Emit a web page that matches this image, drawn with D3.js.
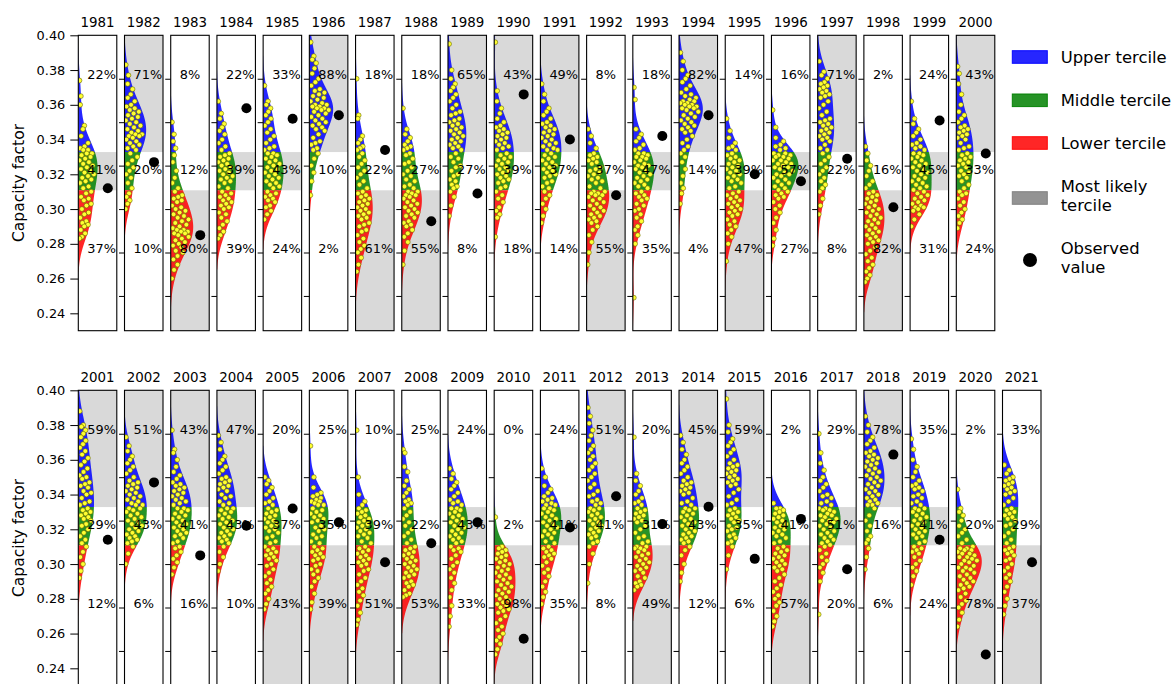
<!DOCTYPE html>
<html>
<head>
<meta charset="utf-8">
<script src="https://cdn.jsdelivr.net/npm/d3@7"></script>
<style>
  body { margin: 0; background: #fff; }
  svg { display: block; }
  text { font-family: "DejaVu Sans", sans-serif; fill: #000; }
</style>
</head>
<body>
<svg id="chart" width="1174" height="684"></svg>
<script>
// Forecast years, one small panel each
const years = [1981, 1982, 1983, 1984, 1985, 1986, 1987, 1988, 1989, 1990,
               1991, 1992, 1993, 1994, 1995, 1996, 1997, 1998, 1999, 2000,
               2001, 2002, 2003, 2004, 2005, 2006, 2007, 2008, 2009, 2010,
               2011, 2012, 2013, 2014, 2015, 2016, 2017, 2018, 2019, 2020, 2021];

// Observed capacity factor for each year
const observed = [0.312, 0.327, 0.285, 0.358, 0.352, 0.354, 0.334, 0.293, 0.309, 0.366,
                  0.340, 0.308, 0.342, 0.354, 0.320, 0.316, 0.329, 0.301, 0.351, 0.332,
                  0.314, 0.347, 0.305, 0.322, 0.332, 0.324, 0.301, 0.312, 0.324, 0.257,
                  0.321, 0.339, 0.323, 0.333, 0.303, 0.326, 0.297, 0.363, 0.314, 0.248, 0.301];

// 51 ensemble members per year, capacity factor x 1000
const ensemble = [
  "374 365 360 348 346 342 338 336 335 334 334 332 332 331 330 329 328 327 326 325 324 323 322 321 320 319 318 317 316 315 313 312 310 309 307 306 305 303 302 300 298 297 295 293 292 291 290 288 286 284 283",
  "383 377 372 369 366 364 362 360 359 358 357 356 355 354 353 352 351 350 349 348 347 346 345 344 343 343 342 342 341 340 339 338 337 336 335 334 332 330 328 326 324 322 320 318 315 312 309 307 305 303 300",
  "350 343 339 335 331 327 322 318 315 312 310 308 307 306 305 304 302 301 300 299 298 297 296 295 294 293 292 291 290 289 288 288 287 287 286 286 285 284 283 282 281 280 279 278 276 275 273 271 268 265 260",
  "362 355 352 349 347 345 343 340 338 336 334 332 331 330 329 328 327 326 325 324 323 322 321 320 319 318 317 316 315 313 312 310 309 308 307 306 305 304 303 302 301 300 298 297 295 293 291 289 287 285 283",
  "371 362 360 358 356 354 352 350 348 346 344 342 340 338 336 335 334 332 332 331 330 329 328 327 326 325 324 323 322 321 320 319 318 317 316 315 314 313 312 310 309 308 307 306 305 304 302 301 299 297 294",
  "396 388 386 384 381 378 375 373 371 369 368 367 366 365 364 363 362 361 360 360 359 359 358 358 357 357 356 355 354 353 352 351 350 349 348 347 346 345 343 341 339 338 337 335 334 332 329 325 321 316 308",
  "375 354 352 342 340 338 336 335 334 332 330 328 326 324 322 320 318 316 314 312 310 309 308 307 306 305 304 303 302 301 300 299 298 297 296 295 294 292 291 290 288 287 285 283 281 279 277 275 272 268 264",
  "358 346 343 341 339 337 336 335 334 332 331 329 327 326 324 322 320 319 317 316 314 313 312 310 310 309 308 308 307 306 305 304 303 302 301 300 299 298 297 296 295 293 292 291 290 288 286 284 281 276 268",
  "395 380 375 372 370 368 366 364 362 360 358 356 355 354 352 351 350 349 348 347 346 345 344 343 342 341 340 339 338 337 336 335 334 332 330 329 327 325 324 322 320 319 317 316 314 313 312 310 307 302 296",
  "396 368 362 358 355 352 350 348 347 346 345 344 343 342 341 340 339 338 337 336 335 334 332 331 330 329 328 327 326 325 324 323 322 321 320 319 318 317 316 315 313 312 310 308 306 304 301 299 297 295 284",
  "372 366 362 358 356 354 352 350 349 348 347 346 345 344 343 342 341 340 339 338 337 336 335 334 334 332 331 330 329 328 327 326 325 324 323 322 321 320 319 318 316 315 313 312 310 308 306 303 300 296 292",
  "346 342 338 335 332 331 330 329 328 327 326 324 323 322 321 320 319 318 317 316 315 313 312 310 310 309 309 308 308 307 306 305 304 303 302 301 300 299 298 297 296 295 294 293 292 290 288 285 281 275 268",
  "370 363 346 343 341 339 337 335 334 332 332 331 330 330 329 328 327 326 325 325 324 323 322 321 320 319 318 317 316 315 314 313 312 310 309 308 307 306 305 303 302 300 299 297 295 293 290 288 285 280 249",
  "390 385 380 377 375 373 371 369 367 366 365 364 363 362 362 361 361 360 360 359 359 358 358 357 356 355 354 353 352 351 350 349 348 347 346 345 344 342 340 338 336 334 332 330 327 323 319 315 312 309 303",
  "352 345 341 338 336 335 334 332 331 330 329 328 327 326 325 324 323 322 321 320 319 318 317 316 315 313 312 310 309 308 307 306 305 304 303 302 301 300 299 298 297 296 294 293 291 290 288 286 284 280 270",
  "357 347 341 339 337 336 335 334 332 332 331 331 330 330 329 328 328 327 326 326 325 324 324 323 322 321 320 320 319 318 317 316 315 314 313 312 311 310 309 308 307 306 304 302 300 298 295 292 288 283 279",
  "385 379 377 375 373 372 371 370 369 368 367 366 365 364 362 360 358 356 354 352 351 350 349 348 347 346 345 344 343 342 341 340 339 337 335 334 332 330 328 326 324 322 320 318 316 314 312 310 306 302 297",
  "336 332 328 325 322 319 316 314 312 310 309 308 307 306 305 304 303 302 301 300 299 298 297 296 295 294 293 292 291 290 289 288 287 286 285 284 283 282 281 280 278 276 274 272 270 268 266 264 262 260 258",
  "362 352 349 346 344 342 340 338 337 336 335 334 332 332 331 330 329 328 327 326 325 324 323 322 321 320 319 318 317 316 315 314 313 312 311 310 309 308 307 306 305 304 303 302 301 301 300 299 297 294 290",
  "382 378 372 366 360 356 354 352 350 348 347 346 345 344 343 342 341 340 338 336 335 334 332 331 330 329 328 327 326 325 324 322 321 320 319 318 316 314 312 310 309 308 306 304 302 300 298 296 294 292 289",
  "388 380 379 377 375 373 371 369 367 365 363 361 359 357 355 353 351 350 349 347 346 345 344 342 341 340 338 336 335 334 332 331 330 329 328 327 326 325 323 322 320 318 316 314 312 310 307 304 300 296 292",
  "373 368 365 362 360 358 356 354 352 350 348 347 346 345 344 343 342 341 340 339 338 337 336 335 334 334 332 332 331 330 329 328 327 326 325 324 323 322 321 320 319 318 317 316 315 314 313 312 310 306 300",
  "377 366 364 360 356 353 351 349 347 346 345 344 343 342 341 340 339 338 337 336 335 334 332 332 331 330 329 328 327 326 325 324 323 322 321 320 319 318 317 316 315 313 312 310 309 307 305 303 301 298 294",
  "374 370 366 362 360 358 356 354 352 350 349 348 347 346 345 344 343 342 340 339 338 336 335 334 332 332 331 330 329 328 327 326 325 324 323 322 321 320 319 318 317 316 315 314 313 312 310 307 304 300 296",
  "350 348 346 344 342 340 338 336 335 334 332 331 330 329 328 327 326 325 324 323 322 321 320 319 318 316 315 313 312 310 309 308 307 306 305 304 303 302 300 299 297 295 293 291 289 287 285 283 280 277 274",
  "368 350 344 341 340 339 338 337 336 336 335 334 334 332 331 330 329 328 327 326 325 324 322 321 320 319 317 316 315 313 312 310 309 308 307 306 305 304 303 302 300 299 297 296 294 292 290 287 283 278 274",
  "377 350 340 336 334 332 331 330 329 328 327 326 325 324 323 322 321 320 319 318 317 316 315 313 312 310 309 308 307 306 305 304 303 302 301 300 299 297 296 294 292 290 288 286 284 282 279 276 272 268 265",
  "366 364 356 353 348 345 343 341 339 337 336 335 334 332 330 328 326 324 322 320 318 316 314 312 310 309 308 307 306 305 304 303 302 301 300 299 298 297 296 295 294 293 292 290 289 288 287 285 283 282 281",
  "355 352 349 347 345 343 341 339 337 336 335 334 332 332 331 330 329 328 327 326 325 324 323 322 321 320 319 318 317 316 315 314 313 312 310 309 308 307 305 303 301 299 297 295 292 289 285 281 276 270 264",
  "327 310 309 308 307 306 305 304 303 302 301 300 299 298 297 296 295 294 293 292 291 290 289 288 287 286 285 284 283 282 281 280 279 278 277 276 275 274 273 272 270 268 266 264 262 260 258 256 254 251 248",
  "355 350 345 343 341 339 338 337 336 335 334 334 332 332 331 330 329 328 327 326 325 324 323 322 321 320 319 318 317 316 315 313 312 310 309 308 307 306 305 304 303 301 299 297 295 293 290 287 284 281 277",
  "390 385 381 377 374 371 368 366 364 362 360 358 356 354 352 350 348 346 344 342 340 339 337 336 335 334 332 332 331 330 329 328 327 326 325 324 323 322 321 320 319 318 317 316 315 313 312 310 306 300 289",
  "373 352 348 345 342 340 338 336 335 334 332 331 330 329 328 327 326 325 324 322 320 318 316 315 313 312 310 310 309 309 308 307 306 305 304 303 302 301 300 299 298 297 296 295 293 292 290 289 288 287 285",
  "374 370 366 363 360 358 356 354 352 350 348 347 346 345 344 343 342 341 340 338 336 335 334 332 332 331 330 329 328 327 326 325 324 323 322 321 320 319 318 317 316 315 314 313 312 310 308 305 300 295 290",
  "395 380 376 372 370 368 366 364 362 360 358 357 356 355 354 353 352 351 350 349 348 347 346 345 343 341 339 337 335 334 332 331 330 329 328 327 326 325 324 322 321 320 319 317 316 315 313 312 310 305 297",
  "335 332 332 331 330 329 328 327 326 325 324 323 322 321 320 319 318 317 316 315 313 312 310 309 308 307 306 305 304 303 302 301 300 299 298 297 296 294 292 290 288 286 284 282 280 278 276 273 270 267 264",
  "375 364 358 354 350 348 346 344 342 340 339 338 336 335 334 332 332 331 331 330 329 328 328 327 326 325 325 324 323 322 321 320 319 318 317 316 315 314 313 312 311 310 308 306 304 302 300 298 295 290 271",
  "385 380 376 373 371 369 367 365 364 363 362 361 360 359 358 357 356 355 354 353 352 351 350 349 348 347 346 345 344 343 342 341 340 339 338 337 336 335 334 334 332 328 325 322 319 316 314 312 309 304 297",
  "372 366 360 356 353 350 348 346 345 344 343 342 340 339 338 336 335 334 332 332 331 330 329 328 327 326 325 324 323 322 321 320 319 318 317 316 315 313 312 310 309 308 307 306 304 302 300 298 296 293 288",
  "343 332 330 328 325 322 320 318 316 314 312 310 309 309 308 308 307 306 306 305 304 304 303 302 302 301 300 299 298 298 297 296 295 294 293 292 291 290 289 288 287 286 285 283 281 279 277 275 272 268 264",
  "357 354 352 350 349 348 347 346 345 344 343 342 341 340 338 336 334 332 331 330 329 328 327 326 325 323 322 320 318 316 314 312 310 309 308 307 306 305 303 302 300 298 296 294 292 290 287 284 280 276 271"
];

// Tercile boundaries (lower/middle, middle/upper)
const tercileBounds = [0.3108, 0.3328];
const tercileNames = ["Upper tercile", "Middle tercile", "Lower tercile"];
const tercileColors = ["#0000ff", "#008000", "#ff0000"];

// Axis settings
const yDomain = [0.23, 0.40];
const yTicksLabelled = [0.24, 0.26, 0.28, 0.30, 0.32, 0.34, 0.36, 0.38, 0.40];
const yTicksPanel = [0.25, 0.275, 0.30, 0.325, 0.35, 0.375];
const yLabel = "Capacity factor";

// ---------------------------------------------------------------
const svg = d3.select("#chart");
const panelsPerRow = 21;
const rowTops = [35.3, 390.3];
const panelH = 295.4;
const col = d3.scaleBand()
  .domain(d3.range(panelsPerRow))
  .range([78.3, 1041])
  .paddingInner(0.167)
  .paddingOuter(0);
const bw = col.bandwidth();

const members = ensemble.map(s => s.trim().split(/\s+/).map(v => +v / 1000));

// Gaussian kernel density with Scott's bandwidth
function makeKde(vals) {
  const n = vals.length;
  const h = d3.deviation(vals) * Math.pow(n, -0.2);
  const norm = 1 / (n * h * Math.sqrt(2 * Math.PI));
  const f = y => norm * d3.sum(vals, v => Math.exp(-0.5 * ((y - v) / h) ** 2));
  f.lo = d3.min(vals) - 2 * h;
  f.hi = d3.max(vals) + 2 * h;
  return f;
}
const kdes = members.map(makeKde);
const grid = d3.range(yDomain[0], yDomain[1] + 1e-9, 0.0005);
const globalMax = d3.max(kdes, f => d3.max(grid, g => f(g)));
const widthScale = d3.scaleLinear().domain([0, globalMax]).range([0, 27]);

function tercileCounts(vals) {
  const up = vals.filter(v => v > tercileBounds[1]).length;
  const lo = vals.filter(v => v < tercileBounds[0]).length;
  return [up, vals.length - up - lo, lo];
}

const bandRanges = [
  [tercileBounds[1], yDomain[1]],
  [tercileBounds[0], tercileBounds[1]],
  [yDomain[0], tercileBounds[0]]
];

const defs = svg.append("defs");

years.forEach((yr, i) => {
  const row = i < 20 ? 0 : 1;
  const c = row === 0 ? i : i - 20;
  const top = rowTops[row];
  const x0 = col(c);
  const y = d3.scaleLinear().domain(yDomain).range([top + panelH, top]);
  const vals = members[i];
  const f = kdes[i];
  const counts = tercileCounts(vals);
  const likely = counts.indexOf(d3.max(counts));

  defs.append("clipPath").attr("id", "clip" + yr)
    .append("rect").attr("x", 0).attr("y", top).attr("width", bw).attr("height", panelH);

  const g = svg.append("g").attr("transform", `translate(${x0},0)`);
  const inner = g.append("g").attr("clip-path", `url(#clip${yr})`);

  // most likely tercile
  const br = bandRanges[likely];
  inner.append("rect")
    .attr("x", 0).attr("width", bw)
    .attr("y", y(br[1])).attr("height", y(br[0]) - y(br[1]))
    .attr("fill", "#d9d9d9");

  // half violin, coloured by tercile
  const area = d3.area()
    .y(d => y(d[0]))
    .x0(0)
    .x1(d => widthScale(d[1]));
  bandRanges.forEach((r, k) => {
    const a = Math.max(r[0], f.lo), b = Math.min(r[1], f.hi);
    if (b <= a) return;
    const pts = [a, ...grid.filter(v => v > a && v < b), b].map(v => [v, f(v)]);
    inner.append("path")
      .datum(pts)
      .attr("d", area)
      .attr("fill", tercileColors[k])
      .attr("fill-opacity", 0.85);
  });

  // ensemble members, spread across the violin width
  inner.selectAll("circle.member")
    .data(vals)
    .join("circle")
    .attr("class", "member")
    .attr("cx", (v, j) => ((j * 0.6180339887 + 0.13) % 1) * 0.8 * widthScale(f(v)) + 1)
    .attr("cy", v => y(v))
    .attr("r", 2.4)
    .attr("fill", "#ffff33")
    .attr("stroke", "#6b6b00")
    .attr("stroke-width", 0.6);

  // tercile percentages
  const labelY = [0.375, 0.32, 0.275];
  counts.forEach((cnt, k) => {
    g.append("text")
      .attr("x", 9)
      .attr("y", y(labelY[k]))
      .attr("font-size", "12.9px")
      .text(Math.round(100 * cnt / vals.length) + "%");
  });

  // observed value
  g.append("circle")
    .attr("cx", 29.5)
    .attr("cy", y(observed[i]))
    .attr("r", 5)
    .attr("fill", "#000");

  // frame
  g.append("rect")
    .attr("x", 0).attr("y", top)
    .attr("width", bw).attr("height", panelH)
    .attr("fill", "none")
    .attr("stroke", "#000")
    .attr("stroke-width", 1.1);

  // year title
  g.append("text")
    .attr("x", bw / 2)
    .attr("y", top - 8.8)
    .attr("text-anchor", "middle")
    .attr("font-size", "13.4px")
    .text(yr);

  // y ticks
  if (c === 0) {
    const ax = g.append("g").call(
      d3.axisLeft(y).tickValues(yTicksLabelled)
        .tickFormat(d3.format(".2f")).tickSize(8).tickPadding(5));
    ax.select(".domain").remove();
    ax.selectAll("text").attr("font-size", "12.9px").attr("font-family", "DejaVu Sans, sans-serif").attr("fill", "#000");
    ax.selectAll("line").attr("stroke", "#000").attr("stroke-width", 1);
    svg.append("text")
      .attr("transform", `translate(19,${top + panelH / 2}) rotate(-90)`)
      .attr("text-anchor", "middle")
      .attr("dominant-baseline", "central")
      .attr("font-size", "15.5px")
      .text(yLabel);
  } else {
    const ax = g.append("g").call(
      d3.axisLeft(y).tickValues(yTicksPanel).tickFormat("").tickSize(5.5));
    ax.select(".domain").remove();
    ax.selectAll("line").attr("stroke", "#000").attr("stroke-width", 1);
  }
});

// legend
const legend = svg.append("g").attr("transform", "translate(1012,0)");
const legendFont = "16.4px";
const patchItems = [
  { label: [tercileNames[0]], color: tercileColors[0], op: 0.85, cy: 57 },
  { label: [tercileNames[1]], color: tercileColors[1], op: 0.85, cy: 100.3 },
  { label: [tercileNames[2]], color: tercileColors[2], op: 0.85, cy: 143 },
  { label: ["Most likely", "tercile"], color: "#808080", op: 0.85, cy: 198 }
];
patchItems.forEach(it => {
  legend.append("rect")
    .attr("x", 0.3).attr("y", it.cy - 6.3)
    .attr("width", 35).attr("height", 12.6)
    .attr("fill", it.color).attr("fill-opacity", it.op)
    .attr("stroke", it.color).attr("stroke-opacity", 0.95).attr("stroke-width", 1);
  const t = legend.append("text")
    .attr("x", 48.7)
    .attr("font-size", legendFont)
    .attr("dominant-baseline", "central");
  if (it.label.length === 1) {
    t.attr("y", it.cy).text(it.label[0]);
  } else {
    t.attr("y", it.cy - 11.3).text(it.label[0]);
    legend.append("text").attr("x", 48.7).attr("y", it.cy + 7.7)
      .attr("font-size", legendFont).attr("dominant-baseline", "central").text(it.label[1]);
  }
});
legend.append("circle").attr("cx", 18).attr("cy", 260).attr("r", 7).attr("fill", "#000");
legend.append("text").attr("x", 48.7).attr("y", 248.5)
  .attr("font-size", legendFont).attr("dominant-baseline", "central").text("Observed");
legend.append("text").attr("x", 48.7).attr("y", 267.5)
  .attr("font-size", legendFont).attr("dominant-baseline", "central").text("value");
</script>
</body>
</html>
